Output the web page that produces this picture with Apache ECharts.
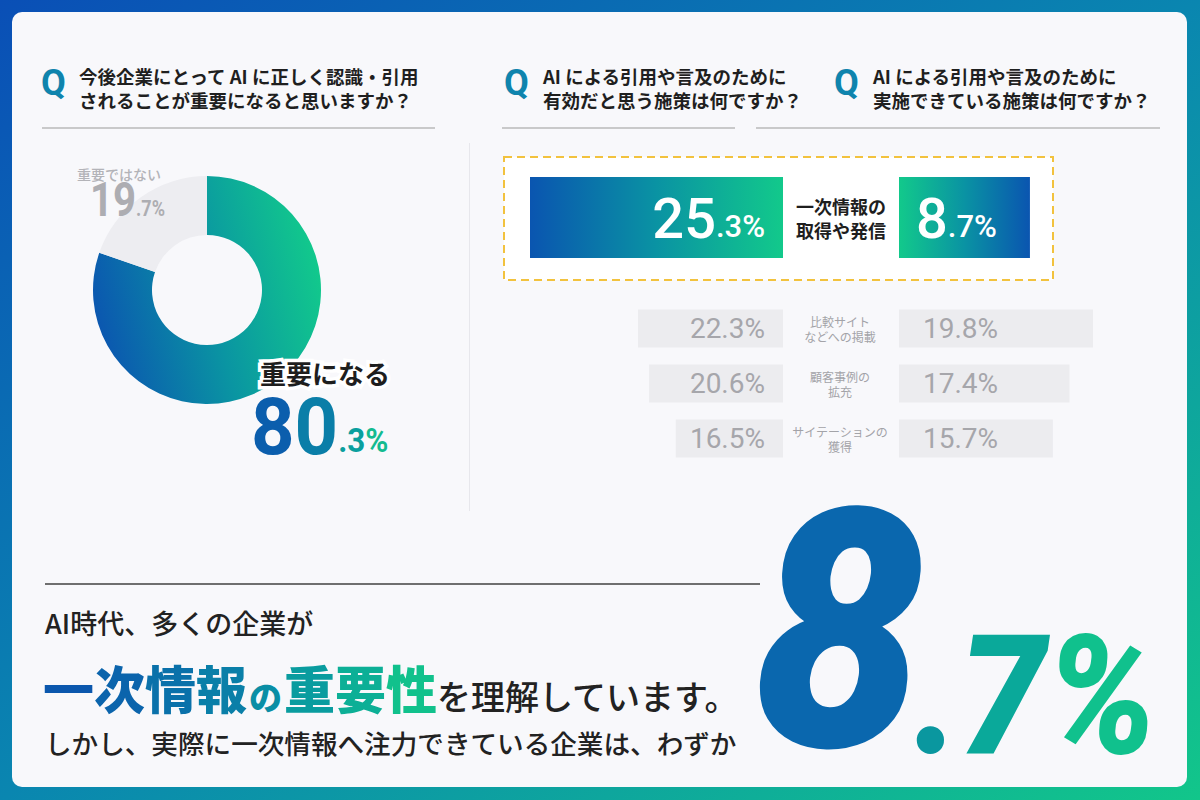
<!DOCTYPE html>
<html><head><meta charset="utf-8">
<script src="https://cdn.jsdelivr.net/npm/echarts/dist/echarts.min.js"></script>
<style>html,body{margin:0;padding:0;width:1200px;height:800px;overflow:hidden;background:#fff}#c{width:1200px;height:800px}</style>
</head><body><div id="c"></div><script>
// ---- data ----
const donutCategories = ['重要になる', '重要ではない'];
const donutValues = [80.3, 19.7];
const keyCategory = '一次情報の\n取得や発信';
const keyEffective = [25.3];
const keyImplemented = [8.7];
const otherCategories = ['比較サイト\nなどへの掲載', '顧客事例の\n拡充', 'サイテーションの\n獲得'];
const otherEffective = [22.3, 20.6, 16.5];
const otherImplemented = [19.8, 17.4, 15.7];
const questions = [
  '今後企業にとって AI に正しく認識・引用\nされることが重要になると思いますか？',
  'AI による引用や言及のために\n有効だと思う施策は何ですか？',
  'AI による引用や言及のために\n実施できている施策は何ですか？'
];
const headline1 = 'AI時代、多くの企業が';
const headlineKey = '一次情報の重要性';
const headlineRest = 'を理解しています。';
const headline3 = 'しかし、実際に一次情報へ注力できている企業は、わずか';

// ---- helpers ----
const JP = '"Noto Sans CJK JP", sans-serif';
const NUM = 'Roboto, sans-serif';
function lg(x, y, x2, y2, cols) {
  return {type: 'linear', x, y, x2, y2, global: false,
    colorStops: cols.map((c, i) => ({offset: i / (cols.length - 1), color: c}))};
}
function splitPct(v) {
  const s = v.toFixed(1); const i = s.indexOf('.');
  return [s.slice(0, i), s.slice(i) + '%'];
}
const BLUE = '#0a55b0', TEAL = '#0a93a3', GREEN = '#12c98b';

const chart = echarts.init(document.getElementById('c'), null, {renderer: 'svg'});

const keyRich = {
  a: {fontSize: 56, fontFamily: NUM, fontWeight: 500, color: '#fff', verticalAlign: 'bottom', lineHeight: 58},
  b: {fontSize: 31, fontFamily: NUM, fontWeight: 500, color: '#fff', verticalAlign: 'bottom', lineHeight: 58, padding: [0, 0, 5, 0]}
};
const keyFmt = p => { const [i, d] = splitPct(p.value); return '{a|' + i + '}{b|' + d + '}'; };

const grayLabel = {show: true, fontSize: 28, fontFamily: NUM, fontWeight: 400, color: '#a6a6ab'};

const [d1i, d1d] = splitPct(donutValues[1]);
const [d0i, d0d] = splitPct(donutValues[0]);
const [bi, bd] = splitPct(keyImplemented[0]);

// per-character colours approximating the blue→green gradient of the headline
const headColors = ['#0b57ad', '#0b64ac', '#0a71aa', '#0a7fa8', '#0a8ea5', '#0a9c9f', '#0caf96', '#11c18c'];
const headSizes = [51, 51, 51, 51, 33, 51, 51, 51];
const headRich = {};
let headText = '';
headlineKey.split('').forEach((ch, i) => {
  headRich['h' + i] = {fontSize: headSizes[i], fontWeight: 900, fontFamily: JP, fill: headColors[i],
    verticalAlign: 'bottom', lineHeight: 60, padding: headSizes[i] < 40 ? [0, 2, 0, 2] : 0};
  headText += '{h' + i + '|' + ch + '}';
});
headRich.r = {fontSize: 34, fontWeight: 500, fontFamily: JP, fill: '#222', verticalAlign: 'bottom', lineHeight: 60};
headText += '{r|' + headlineRest + '}';

const qColor = '#0f84ad';

const elements = [
  {type: 'rect', z: -20, silent: true, shape: {x: 0, y: 0, width: 1200, height: 800},
    style: {fill: lg(0, 0, 1, 1, ['#0a4fb6', '#0a86b0', '#12c68a'])}},
  {type: 'rect', z: -19, silent: true, shape: {x: 12, y: 12, width: 1175, height: 775, r: 10},
    style: {fill: '#f8f8fb'}},
  // header Qs
  ...[[41, 79], [504, 543], [834, 873]].map((p, k) => ({type: 'group', children: [
    {type: 'text', x: p[0], y: 83, style: {text: 'Q', fontSize: 36, fontWeight: 'bold', fontFamily: NUM,
      fill: qColor, verticalAlign: 'middle'}},
    {type: 'text', x: p[1], y: 64, style: {text: questions[k], fontSize: 18.5, fontWeight: 'bold', fontFamily: JP,
      fill: '#1f1f1f', lineHeight: 24, verticalAlign: 'top'}}
  ]})),
  {type: 'line', shape: {x1: 42, y1: 128, x2: 435, y2: 128}, style: {stroke: '#9a9a9a', lineWidth: 1.2}},
  {type: 'line', shape: {x1: 502, y1: 128, x2: 735, y2: 128}, style: {stroke: '#9a9a9a', lineWidth: 1.2}},
  {type: 'line', shape: {x1: 756, y1: 128, x2: 1160, y2: 128}, style: {stroke: '#9a9a9a', lineWidth: 1.2}},
  {type: 'line', shape: {x1: 469.5, y1: 143, x2: 469.5, y2: 511}, style: {stroke: '#e7e7ec', lineWidth: 1}},
  {type: 'rect', z: -5, shape: {x: 504, y: 157, width: 549, height: 123},
    style: {fill: '#ffffff', stroke: '#f2c23e', lineWidth: 2, lineDash: [8, 5]}},
  // donut labels
  {type: 'text', z: 100, x: 77, y: 174, style: {text: donutCategories[1], fontSize: 14, fontWeight: 500, fontFamily: JP,
    fill: '#b3b3b8', verticalAlign: 'middle'}},
  {type: 'text', z: 100, x: 90, y: 224, scaleX: 0.82, style: {text: '{a|' + d1i + '}{b|' + d1d + '}', verticalAlign: 'bottom',
    rich: {a: {fontSize: 49, fontWeight: 'bold', fontFamily: NUM, fill: '#adadb2', verticalAlign: 'bottom', lineHeight: 52},
           b: {fontSize: 22, fontWeight: 'bold', fontFamily: NUM, fill: '#adadb2', verticalAlign: 'bottom', lineHeight: 52, padding: [0, 0, 5, 0]}}}},
  {type: 'text', z: 100, x: 260, y: 372, style: {text: donutCategories[0], fontSize: 26, fontWeight: 'bold', fontFamily: JP,
    fill: '#ffffff', stroke: '#ffffff', lineWidth: 7, verticalAlign: 'middle'}},
  {type: 'text', z: 101, x: 260, y: 372, style: {text: donutCategories[0], fontSize: 26, fontWeight: 'bold', fontFamily: JP,
    fill: '#1e1e1e', verticalAlign: 'middle'}},
  {type: 'text', z: 100, x: 251, y: 467, scaleX: 0.95, style: {
    text: '{a|' + d0i[0] + '}{c|' + d0i.slice(1) + '}{b|' + d0d.slice(0, -1) + '}{e|%}', verticalAlign: 'bottom',
    rich: {a: {fontSize: 80, fontWeight: 'bold', fontFamily: NUM, fill: '#0b5ead', verticalAlign: 'bottom', lineHeight: 84},
           c: {fontSize: 80, fontWeight: 'bold', fontFamily: NUM, fill: '#0a7ea8', verticalAlign: 'bottom', lineHeight: 84},
           b: {fontSize: 33, fontWeight: 'bold', fontFamily: NUM, fill: '#0a9f9e', verticalAlign: 'bottom', lineHeight: 84, padding: [0, 0, 10, 0]},
           e: {fontSize: 33, fontWeight: 'bold', fontFamily: NUM, fill: '#13bb90', verticalAlign: 'bottom', lineHeight: 84, padding: [0, 0, 10, 0]}}}},
  // bottom message
  {type: 'line', shape: {x1: 45, y1: 584, x2: 760, y2: 584}, style: {stroke: '#6f6f6f', lineWidth: 2}},
  {type: 'text', x: 45, y: 622, style: {text: headline1, fontSize: 27, fontWeight: 500, fontFamily: JP, fill: '#222', verticalAlign: 'middle'}},
  {type: 'text', x: 43, y: 712, style: {text: headText, verticalAlign: 'bottom', rich: headRich}},
  {type: 'text', x: 45, y: 742, style: {text: headline3, fontSize: 26.6, fontWeight: 500, fontFamily: JP, fill: '#222', verticalAlign: 'middle'}},
  // big number
  {type: 'text', x: 753, y: 632, scaleX: 0.916, style: {text: bi, fontSize: 334, lineHeight: 334, fontWeight: 900, fontStyle: 'italic', fontFamily: NUM,
    fill: '#0a67ae', verticalAlign: 'middle'}},
  {type: 'text', x: 914, y: 696, scaleX: 0.93, style: {
    text: '{p|' + bd[0] + '}{q|' + bd.slice(1, -1) + '}{s|%}', verticalAlign: 'middle',
    rich: {p: {fontSize: 166, fontWeight: 900, fontStyle: 'italic', fontFamily: NUM, fill: '#0a979f'},
           q: {fontSize: 166, fontWeight: 900, fontStyle: 'italic', fontFamily: NUM, fill: '#0aa99a'},
           s: {fontSize: 166, fontWeight: 900, fontStyle: 'italic', fontFamily: NUM, fill: '#10c18d'}}}}
];

const option = {
  animation: false,
  grid: [
    {left: 483, width: 300, top: 177, height: 81},
    {left: 899, width: 301, top: 177, height: 81},
    {left: 523, width: 260, top: 301, height: 165},
    {left: 899, width: 294, top: 301, height: 165}
  ],
  xAxis: [
    {gridIndex: 0, type: 'value', min: 0, max: 30, inverse: true, show: false},
    {gridIndex: 1, type: 'value', min: 0, max: 20, show: false},
    {gridIndex: 2, type: 'value', min: 0, max: 40, inverse: true, show: false},
    {gridIndex: 3, type: 'value', min: 0, max: 30, show: false}
  ],
  yAxis: [
    {gridIndex: 0, type: 'category', data: [keyCategory], show: false},
    {gridIndex: 1, type: 'category', data: [keyCategory], axisLine: {show: false}, axisTick: {show: false},
      axisLabel: {show: true, margin: 58, align: 'center', fontSize: 18, fontWeight: 'bold', fontFamily: JP, color: '#1e1e1e', lineHeight: 24}},
    {gridIndex: 2, type: 'category', data: otherCategories, inverse: true, show: false},
    {gridIndex: 3, type: 'category', data: otherCategories, inverse: true, axisLine: {show: false}, axisTick: {show: false},
      axisLabel: {show: true, margin: 59, align: 'center', fontSize: 12, fontFamily: JP, color: '#a3a3a8', lineHeight: 15}}
  ],
  series: [
    {type: 'pie', center: [207, 290], radius: [55, 114], startAngle: 90, clockwise: true, silent: true,
      label: {show: false}, labelLine: {show: false}, emphasis: {disabled: true},
      data: [
        {name: donutCategories[0], value: donutValues[0], itemStyle: {color: lg(0, 0.6, 1, 0.35, ['#0b56b0', '#0a95a2', '#12cb8b'])}},
        {name: donutCategories[1], value: donutValues[1], itemStyle: {color: '#ededf1'}}
      ]},
    {type: 'bar', xAxisIndex: 0, yAxisIndex: 0, data: keyEffective, barWidth: 81, silent: true,
      itemStyle: {color: lg(0, 0, 1, 0, [BLUE, TEAL, GREEN])},
      label: {show: true, position: 'insideRight', distance: 18, formatter: keyFmt, rich: keyRich}},
    {type: 'bar', xAxisIndex: 1, yAxisIndex: 1, data: keyImplemented, barWidth: 81, silent: true,
      itemStyle: {color: lg(0, 0, 1, 0, [GREEN, TEAL, BLUE])},
      label: {show: true, position: 'insideLeft', distance: 17, formatter: keyFmt, rich: keyRich}},
    {type: 'bar', xAxisIndex: 2, yAxisIndex: 2, data: otherEffective, barWidth: 38, silent: true,
      itemStyle: {color: '#ececef'},
      label: Object.assign({position: 'insideRight', distance: 18, formatter: p => p.value.toFixed(1) + '%'}, grayLabel)},
    {type: 'bar', xAxisIndex: 3, yAxisIndex: 3, data: otherImplemented, barWidth: 38, silent: true,
      itemStyle: {color: '#ececef'},
      label: Object.assign({position: 'insideLeft', distance: 24, formatter: p => p.value.toFixed(1) + '%'}, grayLabel)}
  ],
  graphic: {elements}
};
chart.setOption(option);
</script></body></html>
